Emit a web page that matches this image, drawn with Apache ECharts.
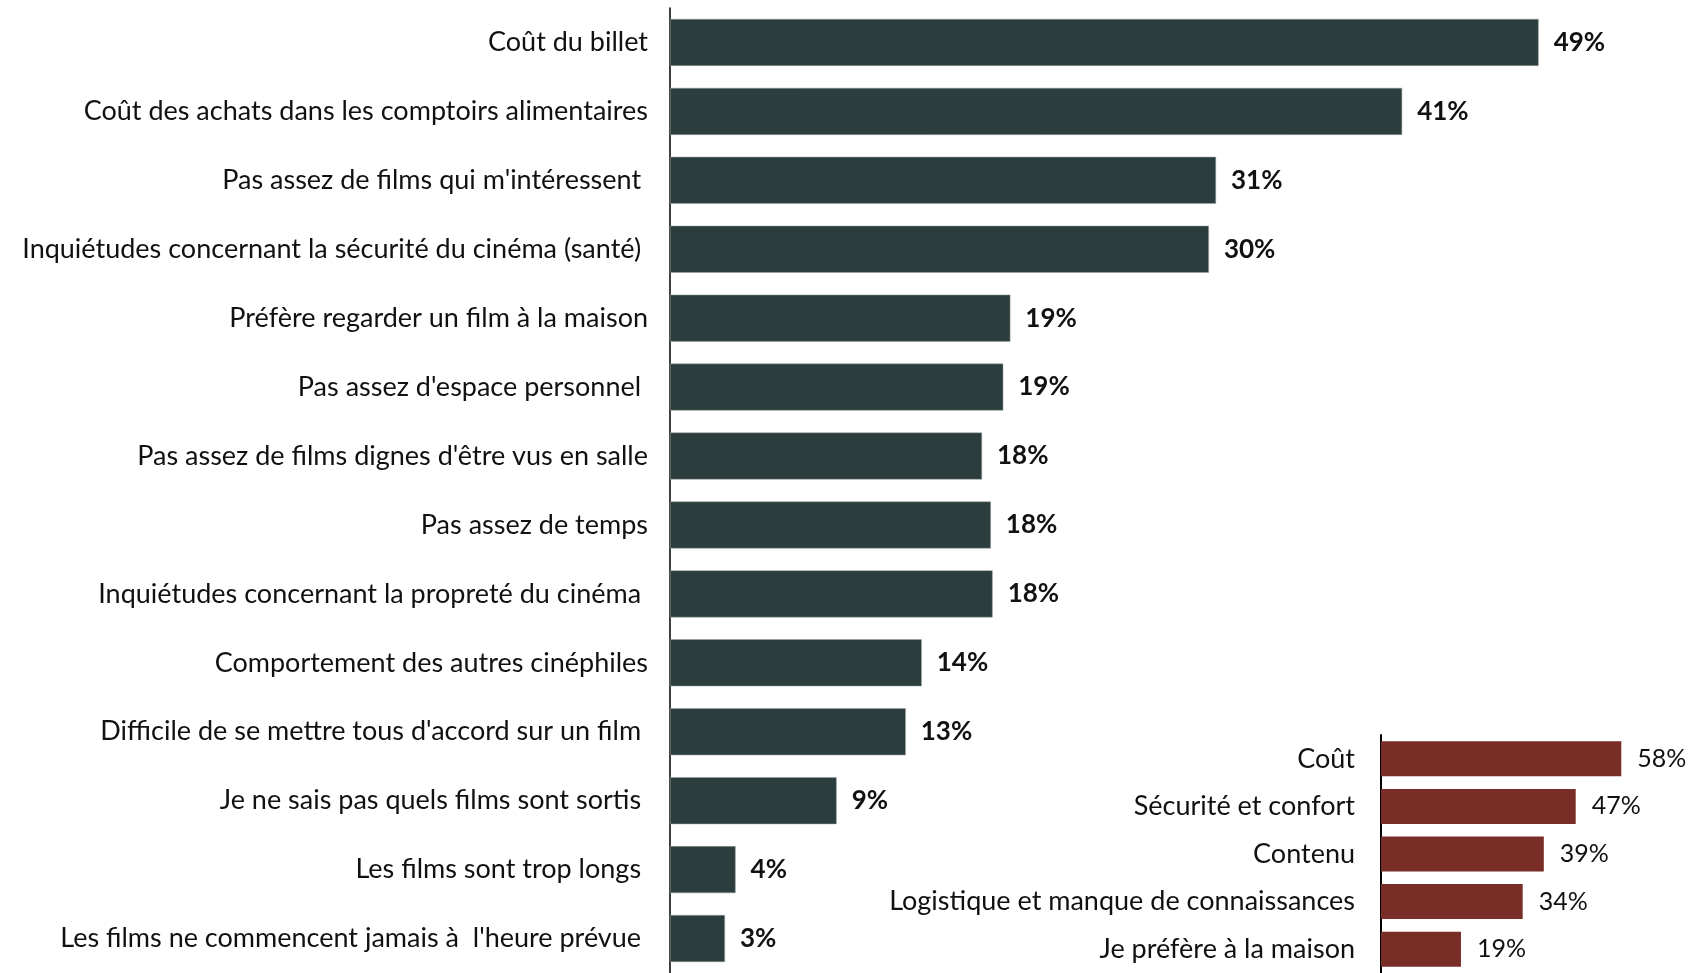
<!DOCTYPE html>
<html>
<head>
<meta charset="utf-8">
<script src="https://cdn.jsdelivr.net/npm/echarts@6/dist/echarts.min.js"></script>
<style>
  html, body { margin: 0; padding: 0; background: #fff; }
  #chart { width: 1691px; height: 973px; }
</style>
</head>
<body>
<div id="chart"></div>
<script>
// raisons principales (listées de haut en bas)
var categories = [
  'Coût du billet',
  'Coût des achats dans les comptoirs alimentaires',
  "Pas assez de films qui m'intéressent ",
  'Inquiétudes concernant la sécurité du cinéma (santé) ',
  'Préfère regarder un film à la maison',
  "Pas assez d'espace personnel ",
  "Pas assez de films dignes d'être vus en salle",
  'Pas assez de temps',
  'Inquiétudes concernant la propreté du cinéma ',
  'Comportement des autres cinéphiles',
  "Difficile de se mettre tous d'accord sur un film ",
  'Je ne sais pas quels films sont sortis ',
  'Les films sont trop longs ',
  "Les films ne commencent jamais à  l'heure prévue "
];
var values = [49, 41.3, 30.8, 30.4, 19.2, 18.8, 17.6, 18.1, 18.2, 14.2, 13.3, 9.4, 3.7, 3.1];

// regroupement
var groupCategories = ['Coût', 'Sécurité et confort', 'Contenu', 'Logistique et manque de connaissances', 'Je préfère à la maison'];
var groupValues = [58, 47, 39.3, 34.2, 19.3];

var font = 'Lato, "Open Sans", sans-serif';

var option = {
  animation: false,
  grid: [
    { left: 670, top: 8, width: 975, height: 972, containLabel: false },
    { left: 1381, top: 735, width: 290, height: 240, containLabel: false }
  ],
  xAxis: [
    { gridIndex: 0, type: 'value', min: 0, max: 55, show: false },
    { gridIndex: 1, type: 'value', min: 0, max: 70, show: false }
  ],
  yAxis: [
    {
      gridIndex: 0,
      type: 'category',
      inverse: true,
      data: categories,
      axisLine: { show: true, lineStyle: { color: '#000', width: 1.5 } },
      axisTick: { show: false },
      axisLabel: { color: '#111', fontSize: 27, fontFamily: font, margin: 22 }
    },
    {
      gridIndex: 1,
      type: 'category',
      inverse: true,
      data: groupCategories,
      axisLine: { show: true, lineStyle: { color: '#000', width: 2 } },
      axisTick: { show: false },
      axisLabel: { color: '#111', fontSize: 27, fontFamily: font, margin: 26 }
    }
  ],
  series: [
    {
      type: 'bar',
      xAxisIndex: 0,
      yAxisIndex: 0,
      data: values,
      barWidth: 47,
      itemStyle: { color: '#2b3d3c', borderColor: '#9aa3a2', borderWidth: 0.5 },
      label: {
        show: true,
        position: 'right',
        distance: 15,
        formatter: function (p) { return Math.round(p.value) + '%'; },
        color: '#111',
        fontSize: 26,
        fontWeight: 'bold',
        fontFamily: font
      }
    },
    {
      type: 'bar',
      xAxisIndex: 1,
      yAxisIndex: 1,
      data: groupValues,
      barWidth: 35,
      itemStyle: { color: '#782d26' },
      label: {
        show: true,
        position: 'right',
        distance: 16,
        formatter: function (p) { return Math.round(p.value) + '%'; },
        color: '#111',
        fontSize: 25,
        fontFamily: font
      }
    }
  ]
};

var myChart = echarts.init(document.getElementById('chart'));
myChart.setOption(option);
</script>
</body>
</html>
